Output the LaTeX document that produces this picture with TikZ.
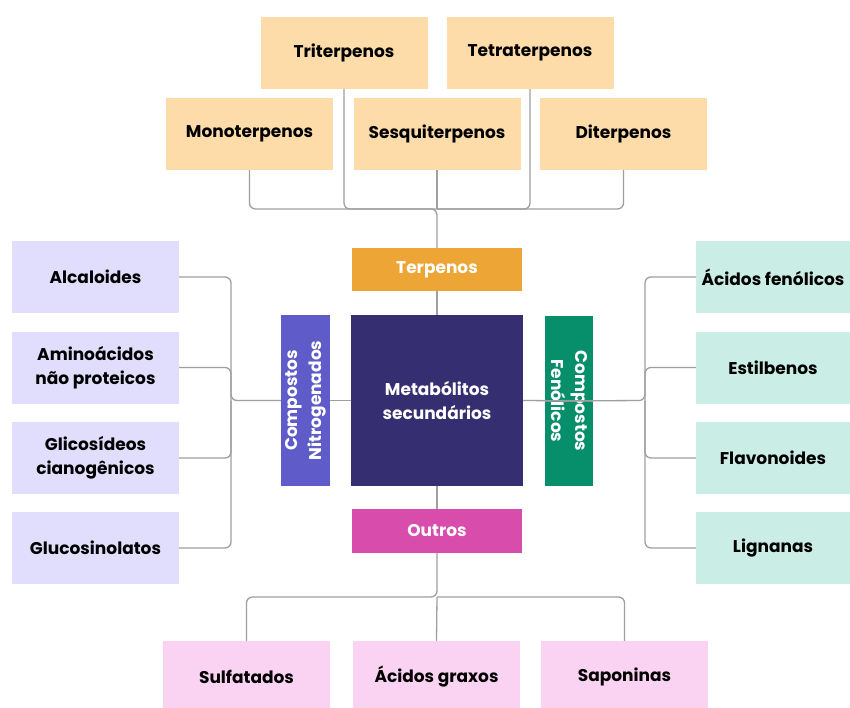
\documentclass[tikz,border=0pt]{standalone}
\usepackage{fontspec}
\setmainfont{Poppins}
\definecolor{peachc}{HTML}{FDDCA9}
\definecolor{orangec}{HTML}{EDA535}
\definecolor{indigoc}{HTML}{352F72}
\definecolor{violetc}{HTML}{5F5CC9}
\definecolor{greenc}{HTML}{078E6B}
\definecolor{magc}{HTML}{D84CAB}
\definecolor{lavc}{HTML}{E1DDFC}
\definecolor{mintc}{HTML}{CAEEE5}
\definecolor{pinkc}{HTML}{FAD2F2}
\definecolor{linec}{HTML}{9F9F9F}
\begin{document}
\begin{tikzpicture}[x=1pt, y=-1pt, font=\bfseries\fontsize{17}{24}\selectfont,
    box/.style = {inner sep=0pt, align=center, minimum width=167pt, minimum height=72pt},
    terp/.style = {box, fill=peachc},
    nitro/.style = {box, fill=lavc},
    fenol/.style = {box, fill=mintc, minimum width=154pt},
    other/.style = {box, fill=pinkc},
    head/.style = {inner sep=0pt, align=center, text=white},
    link/.style = {draw=linec, line width=1.3pt, rounded corners=6pt}]
    \useasboundingbox[fill=white] (0,0) rectangle (850,707);

    % terpenos
    \node[terp] (tri) at (344,53) {Triterpenos};
    \node[terp] (tetra) at (530,53) {Tetraterpenos};
    \node[terp] (mono) at (249.5,134) {Monoterpenos};
    \node[terp] (sesq) at (437,134) {Sesquiterpenos};
    \node[terp] (di) at (623.5,134) {Diterpenos};

    % centro
    \node[head, fill=orangec, minimum width=170pt, minimum height=43pt] (terpenos) at (437,269.5) {Terpenos};
    \node[head, fill=indigoc, minimum width=172pt, minimum height=171pt] (meta) at (437,400.5) {Metabólitos\\secundários};
    \node[head, fill=violetc, minimum width=171pt, minimum height=49pt, rotate=90] (compn) at (305.5,400.5) {Compostos\\Nitrogenados};
    \node[head, fill=greenc, minimum width=170pt, minimum height=48pt, rotate=-90] (compf) at (569,401) {Compostos\\Fenólicos};
    \node[head, fill=magc, minimum width=170pt, minimum height=44pt] (outros) at (437,531) {Outros};

    % nitrogenados
    \node[nitro] (alc) at (95.5,277) {Alcaloides};
    \node[nitro] (amino) at (95.5,367.5) {Aminoácidos\\não proteicos};
    \node[nitro] (glic) at (95.5,458) {Glicosídeos\\cianogênicos};
    \node[nitro] (gluc) at (95.5,548) {Glucosinolatos};

    % fenolicos
    \node[fenol] (acfen) at (773,277) {Ácidos fenólicos};
    \node[fenol] (estil) at (773,367.5) {Estilbenos};
    \node[fenol] (flav) at (773,458) {Flavonoides};
    \node[fenol] (lign) at (773,548) {Lignanas};

    % outros
    \node[other] (sulf) at (246.5,677) {Sulfatados};
    \node[other] (acgrax) at (436.5,677) {Ácidos graxos};
    \node[other] (sapon) at (624.5,677) {Saponinas};

    \coordinate (tj) at (437,209);
    \coordinate (bj) at (437,597);
    \coordinate (lj) at (231,400.5);
    \coordinate (rj) at (645,400.5);

    \draw[link] (mono.south) |- (tj) -- (terpenos.north);
    \draw[link] (tri.south) |- (tj);
    \draw[link] (sesq.south) -- (tj);
    \draw[link] (tetra.south) |- (tj);
    \draw[link] (di.south) |- (tj);

    \draw[link] (terpenos.south) -- (meta.north);
    \draw[link] (meta.south) -- (outros.north);
    \draw[link] (compn.south) -- (meta.west);
    \draw[link] (meta.east) -- (compf.north);

    \draw[link] (alc.east) -| (lj) -- (compn.north);
    \draw[link] (amino.east) -| (lj);
    \draw[link] (glic.east) -| (lj);
    \draw[link] (gluc.east) -| (lj);

    \draw[link] (compf.south) -- (rj) |- (acfen.west);
    \draw[link] (rj) |- (estil.west);
    \draw[link] (rj) |- (flav.west);
    \draw[link] (rj) |- (lign.west);

    \draw[link] (outros.south) -- (bj) -| (sulf.north);
    \draw[link] (bj) -- (acgrax.north);
    \draw[link] (bj) -| (sapon.north);
\end{tikzpicture}
\end{document}
